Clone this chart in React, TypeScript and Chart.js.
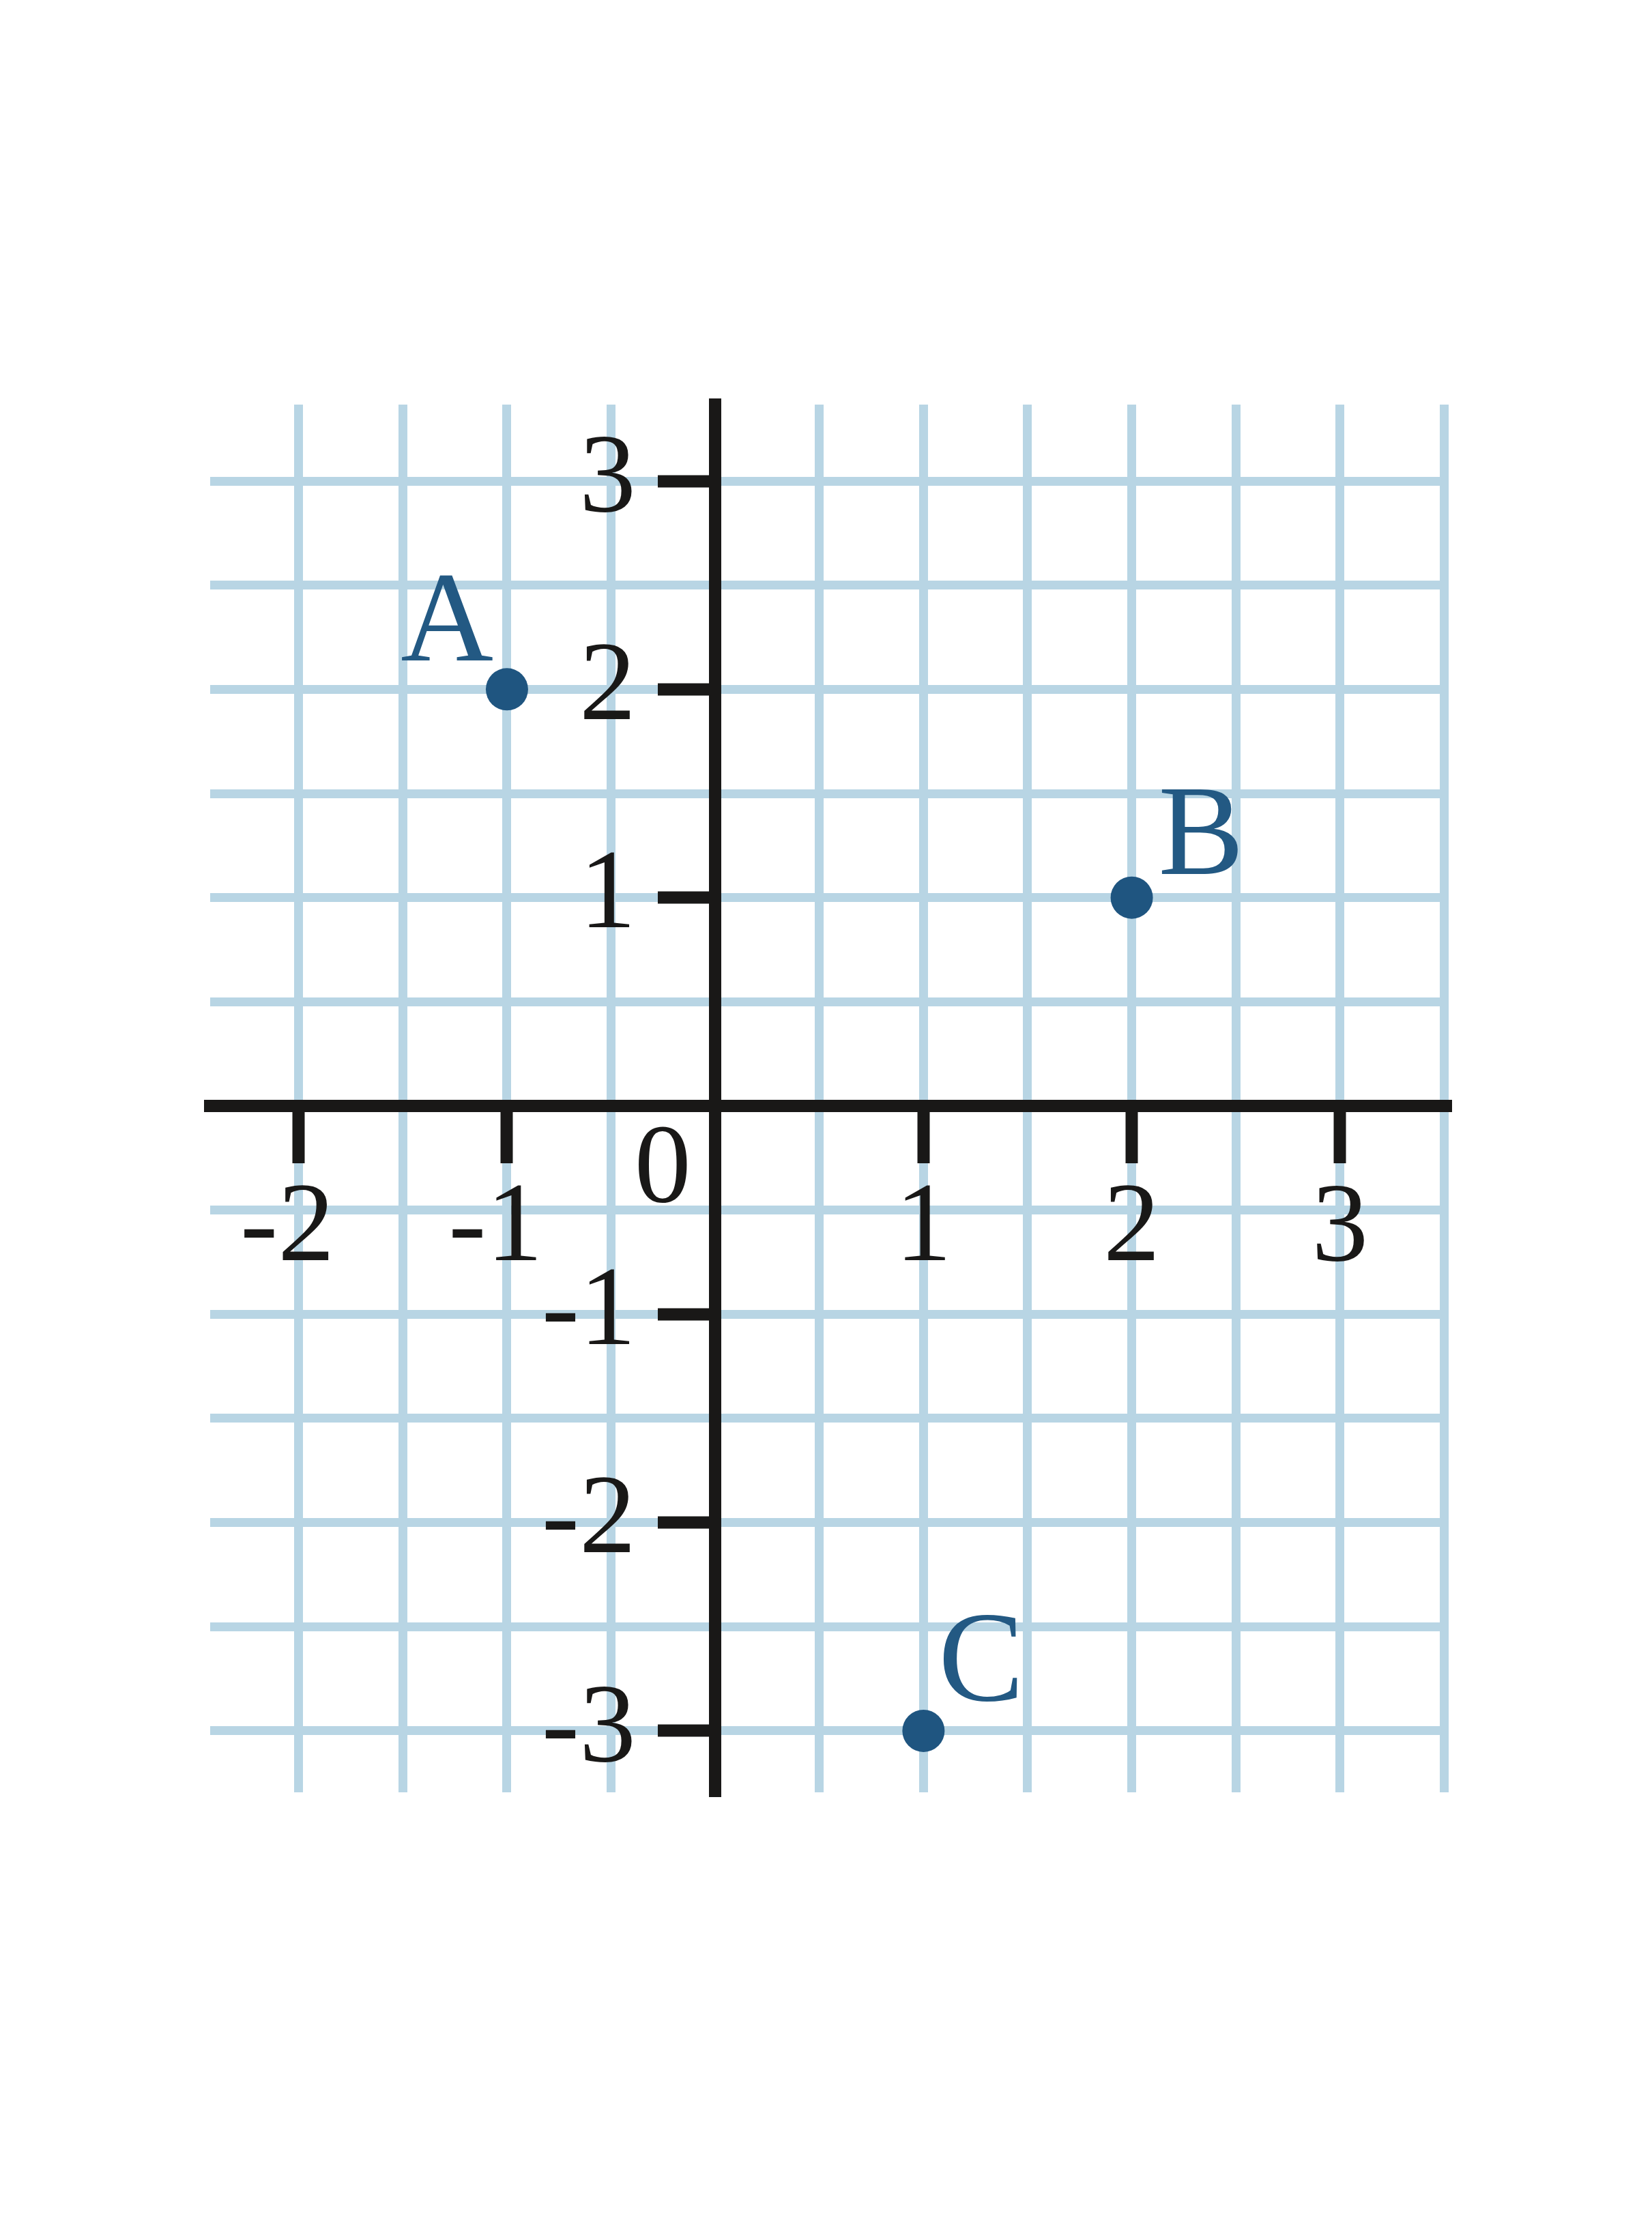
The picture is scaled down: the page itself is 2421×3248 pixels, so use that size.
import React, { useEffect, useRef } from 'react';
import { Chart, registerables } from 'chart.js';

Chart.register(...registerables);

// ---- data ----
const pointNames = ['A', 'B', 'C'];
const pointX = [-1, 2, 1];
const pointY = [2, 1, -3];
const xTickValues = [-2, -1, 1, 2, 3];
const yTickValues = [-3, -2, -1, 1, 2, 3];
const originLabel = '0';

// ---- scale ranges ----
const X_MIN = -2.425;
const X_MAX = 3.515;
const Y_MIN = -3.295;
const Y_MAX = 3.367;
const GRID_STEP = 0.5;

// ---- styles ----
const GRID_COLOR = '#B8D5E4';
const AXIS_COLOR = '#191817';
const POINT_COLOR = '#1F5580';
const LABEL_COLOR = '#235983';
const FONT = 'Liberation Serif';
const TICK_FONT_SIZE = 166;
const LETTER_FONT_SIZE = 188;
const Y_LABEL_GAP = '  \u2009'; // keeps y tick labels left of the tick marks
const labelPlacement = [
  { align: 'right', dx: -20, dy: -42 },
  { align: 'left', dx: 39, dy: -35 },
  { align: 'left', dx: 22, dy: -45 },
];
const originOffset = { dx: -77, dy: 96 };

const annotate = {
  id: 'annotate',
  afterDatasetsDraw(chart: any) {
    const { ctx } = chart;
    const xs = chart.scales.x;
    const ys = chart.scales.y;
    ctx.save();
    ctx.font = `${LETTER_FONT_SIZE}px "${FONT}"`;
    ctx.fillStyle = LABEL_COLOR;
    ctx.textBaseline = 'alphabetic';
    pointNames.forEach((name, i) => {
      const px = xs.getPixelForValue(pointX[i]);
      const py = ys.getPixelForValue(pointY[i]);
      const p = labelPlacement[i];
      ctx.textAlign = p.align;
      ctx.fillText(name, px + p.dx, py + p.dy);
    });
    ctx.font = `${TICK_FONT_SIZE}px "${FONT}"`;
    ctx.fillStyle = AXIS_COLOR;
    ctx.textAlign = 'center';
    ctx.textBaseline = 'middle';
    ctx.fillText(originLabel, xs.getPixelForValue(0) + originOffset.dx, ys.getPixelForValue(0) + originOffset.dy);
    ctx.restore();
  },
};

const isInt = (v: number) => Math.abs(v - Math.round(v)) < 1e-9;

export default function App() {
  const ref = useRef<HTMLCanvasElement>(null);
  useEffect(() => {
    document.body.style.margin = '0';
    const chart = new Chart(ref.current!, {
      type: 'scatter',
      data: {
        datasets: [
          {
            data: pointX.map((x, i) => ({ x, y: pointY[i] })),
            backgroundColor: POINT_COLOR,
            borderWidth: 0,
            pointRadius: 31,
            pointHoverRadius: 31,
            clip: false,
          } as any,
        ],
      },
      options: {
        animation: false,
        responsive: false,
        events: [],
        layout: { padding: { left: 308, right: 300, top: 593, bottom: 621 } },
        plugins: { legend: { display: false }, tooltip: { enabled: false } },
        scales: {
          x: {
            type: 'linear',
            position: { y: 0 } as any,
            min: X_MIN,
            max: X_MAX,
            afterFit: (s: any) => { s.height = 0; },
            grid: {
              color: GRID_COLOR,
              lineWidth: 13,
              tickLength: 75,
              tickWidth: 18,
              tickColor: (c: any) => (c.tick && xTickValues.includes(c.tick.value) ? AXIS_COLOR : 'rgba(0,0,0,0)'),
            },
            border: { display: true, color: AXIS_COLOR, width: 18 },
            ticks: {
              stepSize: GRID_STEP,
              includeBounds: false,
              autoSkip: false,
              maxRotation: 0,
              minRotation: 0,
              padding: 8,
              color: AXIS_COLOR,
              font: { family: FONT, size: TICK_FONT_SIZE },
              callback: (v: any) => {
                const n = Number(v);
                if (!isInt(n) || !xTickValues.includes(Math.round(n))) return '';
                return n < 0 ? `${Math.round(n)}\u2009` : `${Math.round(n)}`;
              },
            },
          },
          y: {
            type: 'linear',
            position: { x: 0 } as any,
            min: Y_MIN,
            max: Y_MAX,
            afterFit: (s: any) => { s.width = 0; },
            grid: {
              color: GRID_COLOR,
              lineWidth: 13,
              tickLength: 75,
              tickWidth: 18,
              tickColor: (c: any) => (c.tick && yTickValues.includes(c.tick.value) ? AXIS_COLOR : 'rgba(0,0,0,0)'),
            },
            border: { display: true, color: AXIS_COLOR, width: 18 },
            ticks: {
              stepSize: GRID_STEP,
              includeBounds: false,
              autoSkip: false,
              padding: 0,
              color: AXIS_COLOR,
              font: { family: FONT, size: TICK_FONT_SIZE },
              callback: (v: any) => {
                const n = Number(v);
                if (!isInt(n) || !yTickValues.includes(Math.round(n))) return '';
                return `${Math.round(n)}${Y_LABEL_GAP}`;
              },
            },
          },
        },
      },
      plugins: [annotate],
    });
    return () => chart.destroy();
  }, []);
  return (
    <div style={{ width: 2421, height: 3248, background: '#ffffff' }}>
      <canvas ref={ref} width={2421} height={3248} style={{ display: 'block', width: 2421, height: 3248 }} />
    </div>
  );
}
